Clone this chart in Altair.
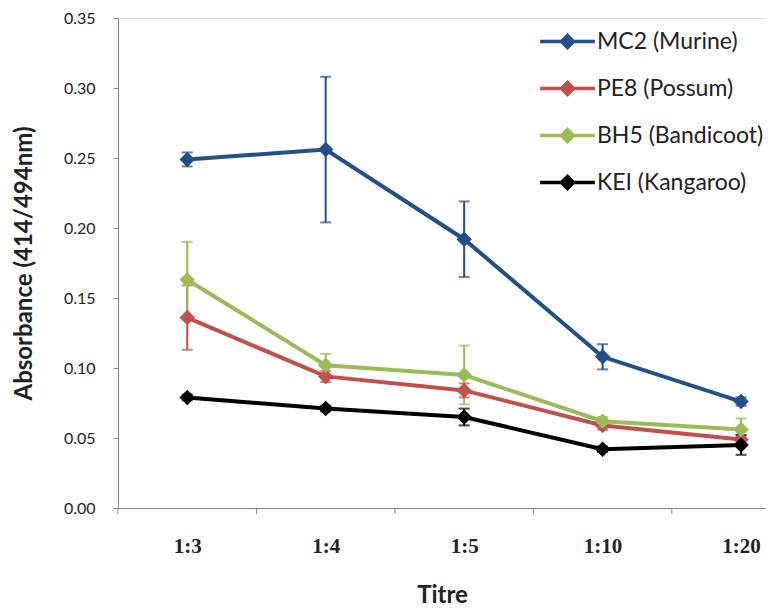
import altair as alt
import pandas as pd

titres = ["1:3", "1:4", "1:5", "1:10", "1:20"]
series = ["MC2 (Murine)", "PE8 (Possum)", "BH5 (Bandicoot)", "KEI (Kangaroo)"]
colors = ["#24508A", "#C0504D", "#9BBB59", "#000000"]

mc2 = [0.249, 0.256, 0.192, 0.108, 0.076]
mc2_err = [0.005, 0.052, 0.027, 0.009, 0.003]
pe8 = [0.136, 0.094, 0.084, 0.059, 0.049]
pe8_err = [0.023, 0.004, 0.005, 0.003, 0.003]
bh5 = [0.163, 0.102, 0.095, 0.062, 0.056]
bh5_err = [0.027, 0.008, 0.021, 0.003, 0.008]
kei = [0.079, 0.071, 0.065, 0.042, 0.045]
kei_err = [0.002, 0.002, 0.006, 0.002, 0.007]

boundaries = [-0.5, 0.5, 1.5, 2.5, 3.5]

vals = [mc2, pe8, bh5, kei]
errs = [mc2_err, pe8_err, bh5_err, kei_err]
rows = []
for si, name in enumerate(series):
    for i, t in enumerate(titres):
        v = vals[si][i]
        e = errs[si][i]
        rows.append({"series": name, "order": si, "idx": i, "titre": t,
                     "value": v, "lo": v - e, "hi": v + e})
df = pd.DataFrame(rows)
dfb = pd.DataFrame({"b": boundaries})

xscale = alt.Scale(domain=[-0.5, 4.18], nice=False, zero=False)
yscale = alt.Scale(domain=[0, 0.35], nice=False)
color = alt.Color("series:N", scale=alt.Scale(domain=series, range=colors),
                  sort=series,
                  legend=alt.Legend(
                      title=None, orient="none", legendX=420, legendY=-6,
                      symbolType="M-1,0L1,0M0,-0.22L0.22,0L0,0.22L-0.22,0Z",
                      symbolSize=3000, symbolStrokeWidth=3.5, symbolOpacity=1,
                      labelFont="Lato", labelFontSize=23, labelColor="#222222",
                      labelOffset=0, labelLimit=400, rowPadding=4, padding=0))

label_expr = "['" + "','".join(titres) + "'][datum.value]"

x_enc = alt.X("idx:Q", scale=xscale,
              axis=alt.Axis(values=list(range(len(titres))), labelExpr=label_expr,
                            title="Titre", ticks=False, tickSize=0, grid=False,
                            domainColor="#868686", domainWidth=1,
                            labelFont="Liberation Serif", labelFontWeight="bold",
                            labelFontSize=21, labelColor="#222222", labelPadding=27,
                            titleFont="Lato", titleFontSize=24, titleFontWeight="bold",
                            titleColor="#222222", titlePadding=27))
y_enc = alt.Y("value:Q", scale=yscale,
              axis=alt.Axis(values=[0, 0.05, 0.1, 0.15, 0.2, 0.25, 0.3, 0.35], format=".2f",
                            title="Absorbance (414/494nm)", grid=False,
                            domainColor="#868686", tickColor="#868686", tickSize=5,
                            labelFont="Lato", labelFontSize=16, labelColor="#222222",
                            labelPadding=18,
                            titleFont="Lato", titleFontSize=24, titleFontWeight="bold",
                            titleColor="#222222", titlePadding=27))

base = alt.Chart(df)

err_rule = base.mark_rule(strokeWidth=2).encode(
    x=alt.X("idx:Q", scale=xscale), y=alt.Y("lo:Q", scale=yscale), y2="hi:Q",
    color=color)
cap_hi = base.mark_tick(orient="horizontal", size=11, thickness=2).encode(
    x=alt.X("idx:Q", scale=xscale), y=alt.Y("hi:Q", scale=yscale), color=color)
cap_lo = base.mark_tick(orient="horizontal", size=11, thickness=2).encode(
    x=alt.X("idx:Q", scale=xscale), y=alt.Y("lo:Q", scale=yscale), color=color)

lines = base.mark_line(strokeWidth=4).encode(x=x_enc, y=y_enc, color=color,
                                             order="idx:Q")
points = base.mark_point(shape="diamond", filled=True, size=240, opacity=1).encode(
    x=alt.X("idx:Q", scale=xscale), y=alt.Y("value:Q", scale=yscale), color=color)

bticks = alt.Chart(dfb).mark_rule(color="#868686", strokeWidth=1).encode(
    x=alt.X("b:Q", scale=xscale), y=alt.value(490), y2=alt.value(496))

chart = alt.layer(err_rule, cap_hi, cap_lo, lines, points, bticks).properties(
    width=648, height=490,
    autosize=alt.AutoSizeParams(type="none"),
    padding={"left": 110, "top": 10, "right": 0, "bottom": 102},
).configure_view(stroke=None).configure(background="white")

chart.save("out.html", embed_options={"renderer": "svg", "actions": False})
